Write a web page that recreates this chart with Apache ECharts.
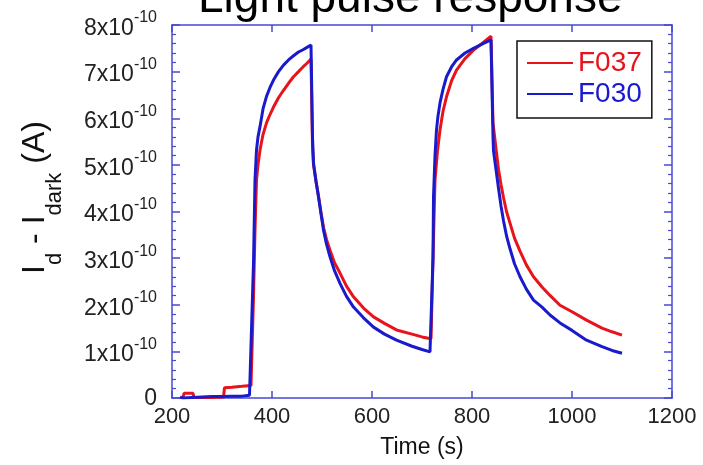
<!DOCTYPE html>
<html>
<head>
<meta charset="utf-8">
<script src="https://cdn.jsdelivr.net/npm/echarts@6/dist/echarts.min.js"></script>
<style>
  html, body { margin: 0; padding: 0; background: #ffffff; }
  #chart { width: 703px; height: 465px; }
</style>
</head>
<body>
<div id="chart"></div>
<script>
// Photocurrent response to two light pulses; currents in units of 1e-10 A
const timeF037 = [222, 224, 242, 244, 260, 280, 303, 305, 320, 340, 358, 360,
  363, 366, 369, 372, 376, 382, 389, 396, 403, 413, 423, 433, 443, 453, 462, 470, 478, 480,
  481, 483, 488, 493, 498, 503, 509, 516, 525, 536, 549, 563, 583, 603, 625, 649, 680, 700, 718, 720,
  722, 726, 731, 736, 742, 749, 759, 769, 786, 803, 822, 838, 840,
  842, 848, 853, 858, 863, 869, 876, 885, 896, 909, 923, 940, 956, 976, 1000, 1029, 1060, 1080, 1100];
const currF037 = [0.01, 0.10, 0.10, 0.01, 0.01, 0.01, 0.02, 0.22, 0.23, 0.25, 0.27, 0.27,
  2.17, 3.60, 4.68, 5.00, 5.32, 5.65, 5.90, 6.08, 6.24, 6.44, 6.60, 6.75, 6.89, 7.00, 7.10, 7.18, 7.27, 7.29,
  5.40, 5.00, 4.65, 4.33, 3.98, 3.66, 3.40, 3.17, 2.90, 2.68, 2.40, 2.17, 1.93, 1.74, 1.60, 1.46, 1.37, 1.31, 1.27, 1.27,
  3.00, 4.68, 5.30, 5.75, 6.15, 6.46, 6.80, 7.03, 7.28, 7.46, 7.62, 7.76, 7.78,
  5.90, 5.35, 4.90, 4.58, 4.30, 4.00, 3.75, 3.43, 3.15, 2.85, 2.60, 2.38, 2.20, 1.99, 1.85, 1.67, 1.50, 1.42, 1.35];

const timeF030 = [216, 222, 240, 260, 280, 300, 320, 340, 355, 358,
  363, 366, 369, 372, 376, 382, 389, 396, 403, 413, 423, 433, 443, 453, 462, 470, 478, 480,
  481, 483, 488, 493, 498, 503, 509, 516, 525, 536, 549, 563, 583, 603, 625, 649, 680, 700, 716, 720,
  722, 723, 726, 729, 732, 736, 742, 749, 759, 769, 786, 803, 822, 838, 840,
  842, 843, 848, 853, 858, 863, 869, 876, 885, 896, 909, 923, 940, 956, 976, 1000, 1029, 1060, 1080, 1100];
const currF030 = [0.02, 0.00, 0.01, 0.02, 0.03, 0.03, 0.04, 0.04, 0.06, 0.06,
  2.90, 4.68, 5.32, 5.60, 5.82, 6.20, 6.47, 6.66, 6.82, 7.00, 7.14, 7.25, 7.34, 7.42, 7.47, 7.52, 7.57, 7.57,
  5.60, 5.04, 4.65, 4.31, 3.95, 3.60, 3.30, 3.03, 2.73, 2.46, 2.18, 1.95, 1.72, 1.52, 1.37, 1.24, 1.11, 1.04, 0.99, 0.98,
  3.00, 4.31, 5.20, 5.75, 6.05, 6.33, 6.62, 6.89, 7.10, 7.25, 7.40, 7.50, 7.60, 7.68, 7.68,
  5.60, 5.30, 4.90, 4.50, 4.12, 3.80, 3.48, 3.20, 2.88, 2.60, 2.33, 2.10, 1.95, 1.78, 1.61, 1.45, 1.24, 1.10, 1.02, 0.96];

const xTicks = [200, 400, 600, 800, 1000, 1200];
const yTicks = [0, 1, 2, 3, 4, 5, 6, 7, 8];

const RED = '#e8131b';
const BLUE = '#1a1acd';
const FRAME = '#4848d4';
const FONT = '"Liberation Sans", Arial, sans-serif';

const pairs = (t, v) => t.map((x, i) => [x, v[i]]);

const chart = echarts.init(document.getElementById('chart'), null, { renderer: 'canvas' });

const xCommon = {
  type: 'value',
  min: xTicks[0],
  max: xTicks[xTicks.length - 1],
  interval: 200,
  axisLine: { show: true, onZero: false, lineStyle: { color: FRAME, width: 1.5 } },
  axisTick: { show: true, inside: true, length: 7, lineStyle: { color: FRAME, width: 1.5 } },
  splitLine: { show: false }
};
const yCommon = {
  type: 'value',
  min: yTicks[0],
  max: yTicks[yTicks.length - 1],
  interval: 1,
  axisLine: { show: true, lineStyle: { color: FRAME, width: 1.5 } },
  axisTick: { show: true, inside: true, length: 8, lineStyle: { color: FRAME, width: 1.5 } },
  minorTick: { show: true, splitNumber: 5, length: 4, lineStyle: { color: FRAME, width: 1.2 } },
  splitLine: { show: false }
};

chart.setOption({
  animation: false,
  backgroundColor: '#ffffff',
  title: {
    text: 'Light pulse response',
    left: 198,
    top: -24,
    padding: 0,
    textStyle: { fontFamily: FONT, fontSize: 46, fontWeight: 'normal', color: '#000' }
  },
  grid: { left: 172, right: 31, top: 25, bottom: 67, containLabel: false },
  legend: {
    orient: 'vertical',
    left: 517,
    top: 41,
    padding: [8, 10, 10, 10],
    itemGap: 3,
    itemWidth: 46,
    itemHeight: 2,
    icon: 'rect',
    borderColor: '#111',
    borderWidth: 1.5,
    backgroundColor: '#fff',
    textStyle: { fontFamily: FONT, fontSize: 28, padding: [0, 0, 0, 0] },
    data: [
      { name: 'F037', textStyle: { color: RED } },
      { name: 'F030', textStyle: { color: BLUE } }
    ]
  },
  xAxis: [
    Object.assign({}, xCommon, {
      position: 'bottom',
      name: 'Time (s)',
      nameLocation: 'middle',
      nameGap: 38,
      nameTextStyle: { fontFamily: FONT, fontSize: 23, color: '#111' },
      axisLabel: { show: true, margin: 8, fontFamily: FONT, fontSize: 22, color: '#222',
        formatter: v => String(v) }
    }),
    Object.assign({}, xCommon, { position: 'top', axisLabel: { show: false } })
  ],
  yAxis: [
    Object.assign({}, yCommon, {
      position: 'left',
      name: '{m|I}{s|d}{m| - I}{s|dark}{m| (A)}',
      nameLocation: 'middle',
      nameGap: 121,
      nameTextStyle: {
        padding: [0, 0, 0, 28],
        rich: {
          m: { fontFamily: FONT, fontSize: 32, lineHeight: 32, verticalAlign: 'top', color: '#111' },
          s: { fontFamily: FONT, fontSize: 22, lineHeight: 22, verticalAlign: 'top', padding: [25, 0, 0, 0], color: '#111' }
        }
      },
      axisLabel: {
        show: true, margin: 15,
        formatter: v => v === 0 ? '{m|0}' : '{m|' + v + 'x10}{e|-10}',
        rich: {
          m: { fontFamily: FONT, fontSize: 23, color: '#222', verticalAlign: 'bottom', lineHeight: 24 },
          e: { fontFamily: FONT, fontSize: 16, color: '#222', verticalAlign: 'top', lineHeight: 30 }
        }
      }
    }),
    Object.assign({}, yCommon, { position: 'right', axisLabel: { show: false } })
  ],
  series: [
    {
      name: 'F037', type: 'line', xAxisIndex: 0, yAxisIndex: 0,
      data: pairs(timeF037, currF037),
      showSymbol: false, symbol: 'none', smooth: false,
      lineStyle: { color: RED, width: 3 }, itemStyle: { color: RED }
    },
    {
      name: 'F030', type: 'line', xAxisIndex: 0, yAxisIndex: 0,
      data: pairs(timeF030, currF030),
      showSymbol: false, symbol: 'none', smooth: false,
      lineStyle: { color: BLUE, width: 3 }, itemStyle: { color: BLUE }
    }
  ]
});
</script>
</body>
</html>
